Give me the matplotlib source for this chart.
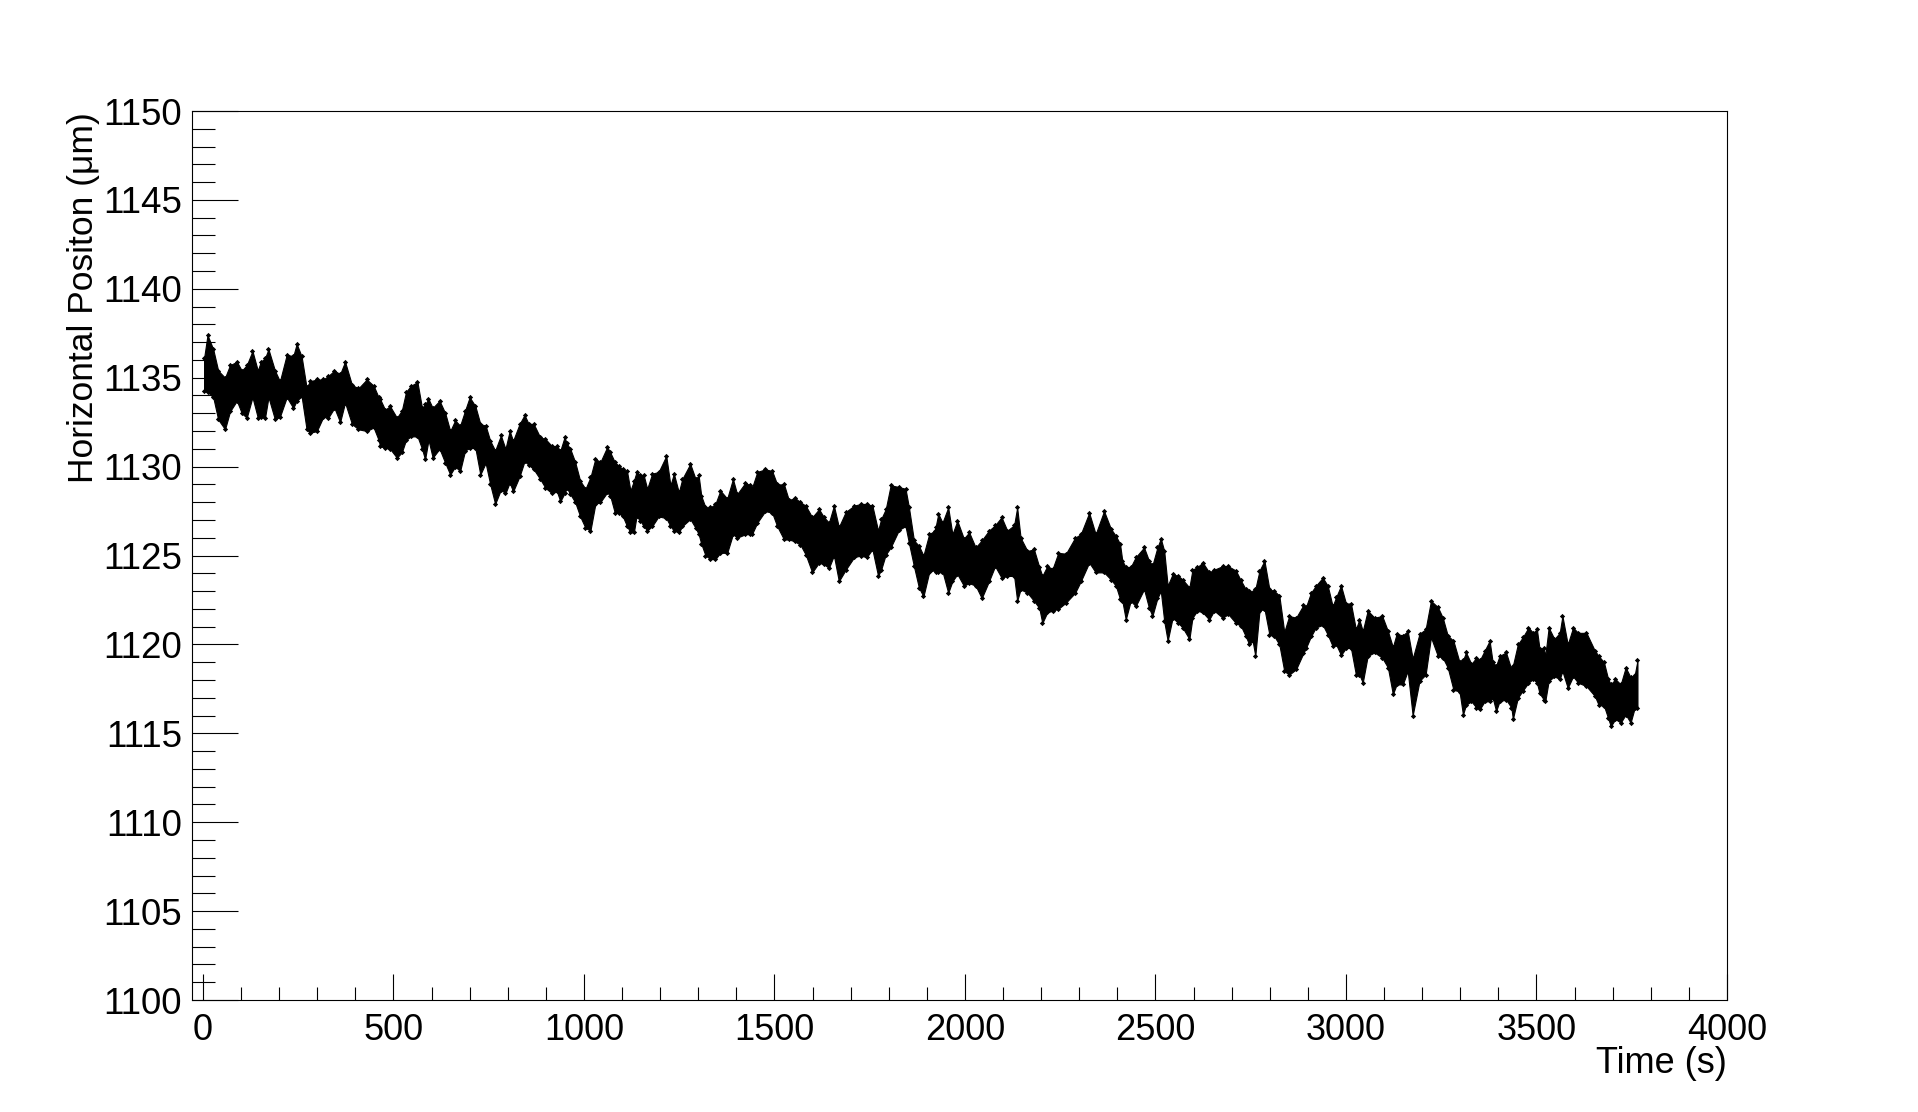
import matplotlib
matplotlib.use('Agg')
from matplotlib import pyplot as plt
from matplotlib.ticker import MultipleLocator

plt.rcParams['font.family'] = ['Liberation Sans', 'DejaVu Sans']

# time and the upper/lower edge of the point cloud
time_s = [3,12,27,40,58,71,89,102,115,130,144,152,163,172,189,202,220,237,246,259,272,281,299,316,329,345,360,373,391,408,430,448,461,
    465,478,491,509,522,533,546,563,575,583,592,603,621,636,649,662,675,688,700,715,728,742,754,767,782,794,805,814,831,844,855,868,885,899,916,929,938,949,
    955,964,977,990,1004,1017,1030,1043,1061,1069,1081,1091,1102,1113,1122,1131,1138,1148,1157,1166,1179,1196,1216,1227,1236,1249,1258,1279,1293,1301,1308,1319,1332,1345,1358,1376,1391,1402,1424,1435,
    1441,1455,1476,1494,1507,1525,1538,1553,1568,1582,1599,1617,1630,1643,1656,1669,1687,1709,1726,1742,1757,1772,1780,1792,1805,1827,1844,1853,1866,1879,1891,1906,1921,
    1923,1930,1941,1956,1967,1980,1997,2011,2028,2044,2063,2079,2096,2111,2129,2137,2146,2164,2181,2195,2203,2216,2230,2245,2265,2289,2304,2326,2343,2365,2383,2396,2407,
    2413,2422,2435,2448,2470,2483,2492,2505,2514,2523,2532,2545,2560,2571,2589,2597,2610,2624,2641,2654,2676,2691,2711,2724,2737,2746,2755,2762,2773,2786,2799,2812,2825,2838,2851,2869,2888,
    2895,2908,2921,2939,2952,2965,2974,2987,3000,3013,3026,3035,3044,3057,3075,3095,3110,3123,3133,3149,3162,3175,3193,3209,3223,3241,3254,3267,3282,3298,3307,3315,3329,3342,3351,3364,3377,
    3385,3394,3403,3420,3434,3438,3451,3464,3479,3491,3501,3508,3519,3523,3532,3547,3561,3568,3582,3596,3609,3631,3653,3663,3677,3688,3695,3707,3721,3734,3747,3758,3765]

upper = [1136.1,1137.4,1136.6,1135.4,1135.0,1135.7,1135.9,1135.4,1135.7,1136.5,1135.4,1135.9,1136.1,1136.6,1135.4,1134.8,1136.3,1136.2,1136.9,1136.2,1134.45,1134.8,1134.9,1134.9,1135.1,1135.4,1135.2,1135.9,1134.6,1134.4,1134.9,1134.55,1133.9,
    1133.8,1133.2,1133.4,1132.75,1133.15,1134.2,1134.55,1134.75,1133.3,1133.5,1133.8,1133.3,1133.7,1133.0,1132.0,1132.6,1132.3,1133.15,1133.9,1133.4,1132.4,1132.3,1131.45,1130.9,1131.75,1131.0,1132.0,1131.45,1132.4,1132.9,1132.4,1132.4,1131.65,1131.55,1131.15,1131.15,1130.9,1131.65,
    1131.3,1131.0,1130.25,1129.2,1128.75,1129.4,1130.45,1130.25,1131.1,1130.8,1130.25,1130.05,1129.85,1129.75,1128.65,1129.2,1129.7,1129.5,1129.5,1128.75,1129.6,1129.7,1130.6,1128.95,1129.6,1128.55,1129.3,1130.15,1129.3,1129.5,1128.35,1127.7,1127.7,1127.9,1128.65,1128.2,1129.3,1128.45,1129.1,1128.95,
    1128.8,1129.7,1129.85,1129.75,1129.0,1129.0,1128.1,1128.25,1128.0,1127.8,1127.15,1127.6,1127.15,1126.85,1127.8,1126.6,1127.45,1127.8,1127.9,1127.9,1127.8,1126.4,1127.05,1127.6,1128.95,1128.85,1128.75,1127.7,1125.85,1125.55,1125.0,1126.2,1126.4,
    1126.6,1127.35,1126.85,1127.7,1126.2,1126.95,1125.95,1126.3,1125.45,1125.85,1126.4,1126.7,1127.15,1126.4,1126.7,1127.7,1126.0,1125.25,1125.35,1124.35,1123.85,1124.4,1124.25,1125.15,1125.1,1126.0,1126.2,1127.4,1126.2,1127.5,1126.5,1126.1,1125.65,
    1124.7,1124.35,1124.35,1124.9,1125.45,1124.7,1124.45,1125.45,1125.95,1125.25,1123.3,1123.95,1123.85,1123.65,1123.2,1124.2,1124.35,1124.6,1124.05,1124.2,1124.4,1124.4,1124.15,1123.6,1123.1,1123.0,1122.95,1123.1,1124.15,1124.7,1123.1,1123.0,1122.75,1120.7,1121.6,1121.5,1122.2,
    1122.1,1122.9,1123.3,1123.75,1123.3,1122.15,1122.65,1123.3,1122.3,1122.3,1120.85,1121.4,1120.75,1121.9,1121.5,1121.6,1120.75,1119.85,1120.6,1120.5,1120.75,1119.2,1120.6,1120.85,1122.45,1122.1,1121.5,1120.5,1120.2,1119.0,1119.1,1119.55,1118.9,1119.25,1119.1,1119.65,1120.2,
    1119.0,1118.8,1119.35,1119.55,1118.6,1118.8,1120.0,1120.4,1120.95,1120.65,1120.85,1119.75,1119.8,1119.35,1120.95,1120.3,1120.65,1121.6,1120.0,1120.95,1120.65,1120.65,1119.65,1119.35,1119.0,1118.05,1117.75,1118.05,1117.75,1118.7,1118.15,1118.3,1119.1]

lower = [1134.25,1134.2,1133.9,1132.65,1132.1,1133.1,1133.7,1133.0,1132.75,1133.9,1132.75,1132.8,1132.75,1133.9,1132.65,1132.8,1133.9,1133.3,1133.7,1133.95,1132.1,1131.9,1132.0,1132.8,1132.75,1133.3,1132.5,1133.6,1132.4,1132.1,1132.0,1132.2,1131.5,
    1131.15,1131.05,1131.0,1130.5,1130.8,1131.5,1131.7,1131.7,1131.0,1130.4,1131.5,1130.5,1131.0,1130.2,1129.55,1130.0,1129.75,1130.9,1131.05,1131.05,1129.55,1130.2,1129.0,1127.9,1128.7,1128.5,1129.1,1128.6,1129.45,1130.3,1130.1,1129.85,1129.3,1128.8,1128.5,1128.6,1128.05,1128.5,
    1128.8,1128.45,1128.0,1127.2,1126.55,1126.4,1127.9,1128.0,1128.55,1128.35,1127.4,1127.4,1127.2,1126.65,1126.3,1126.3,1127.2,1126.95,1126.65,1126.4,1126.65,1127.2,1127.1,1126.65,1126.4,1126.3,1126.65,1127.05,1126.55,1126.2,1125.65,1125.0,1124.8,1124.8,1125.15,1125.15,1126.2,1126.0,1126.2,1126.2,
    1126.2,1126.85,1127.5,1127.4,1126.65,1125.9,1125.9,1125.8,1125.6,1125.05,1124.05,1124.6,1124.5,1124.3,1125.0,1123.55,1124.2,1124.9,1125.0,1124.9,1125.35,1123.85,1124.2,1125.05,1125.45,1126.45,1126.65,1125.7,1124.4,1123.2,1122.7,1124.05,1124.2,
    1124.05,1124.05,1124.1,1122.9,1123.55,1123.95,1123.3,1123.45,1123.3,1122.6,1123.55,1124.4,1123.75,1123.85,1123.85,1122.45,1123.1,1122.9,1122.45,1122.05,1121.2,1121.8,1121.9,1122.0,1122.35,1122.9,1123.55,1124.6,1124.05,1124.05,1123.65,1123.3,1122.55,
    1122.45,1121.4,1122.45,1122.15,1123.1,1122.05,1121.6,1122.6,1123.0,1121.3,1120.2,1121.5,1121.2,1120.95,1120.3,1121.5,1121.9,1121.8,1121.4,1121.9,1121.5,1121.7,1121.2,1121.05,1120.45,1120.0,1120.2,1119.35,1121.9,1122.0,1120.55,1120.45,1120.0,1118.5,1118.3,1118.6,1119.5,
    1119.8,1120.45,1120.95,1121.1,1120.55,1119.9,1120.0,1119.4,1119.8,1119.8,1118.3,1118.3,1117.85,1119.35,1119.55,1119.25,1118.7,1117.2,1117.75,1117.75,1118.5,1116.0,1117.95,1118.3,1120.4,1119.35,1119.25,1118.7,1117.45,1117.35,1116.05,1116.6,1116.8,1116.45,1116.35,1116.8,1116.8,
    1117.0,1116.25,1116.8,1116.9,1116.45,1115.8,1117.0,1117.4,1117.85,1118.05,1117.85,1117.25,1116.9,1116.8,1117.95,1118.2,1118.05,1118.5,1117.55,1118.2,1117.85,1117.65,1117.1,1116.6,1116.55,1115.85,1115.4,1115.8,1115.6,1116.05,1115.6,1116.45,1116.45]

fig = plt.figure(figsize=(19.18, 11.12), dpi=100)
ax = fig.add_axes([191.5/1918, 1-1000/1112, (1727-191.5)/1918, (1000-111)/1112])

ax.fill_between(time_s, lower, upper, color='black', linewidth=0.8, antialiased=False)
ax.plot(time_s, upper, 'D', color='black', ms=2.7, mew=0)
ax.plot(time_s, lower, 'D', color='black', ms=2.7, mew=0)

ax.set_xlim(-30, 4000)
ax.set_ylim(1100, 1150)
ax.xaxis.set_major_locator(MultipleLocator(500))
ax.xaxis.set_minor_locator(MultipleLocator(100))
ax.yaxis.set_major_locator(MultipleLocator(5))
ax.yaxis.set_minor_locator(MultipleLocator(1))
ax.tick_params(axis='x', which='major', direction='in', length=18.7, width=0.8, labelsize=26, pad=9)
ax.tick_params(axis='x', which='minor', direction='in', length=9.4, width=0.8)
ax.tick_params(axis='y', which='major', direction='in', length=33, width=0.8, labelsize=26.5, pad=7)
ax.tick_params(axis='y', which='minor', direction='in', length=16.6, width=0.8)
for s in ax.spines.values():
    s.set_linewidth(0.8)

fig.text(93/1918, 1-112/1112, 'Horizontal Positon (μm)', rotation=90, rotation_mode='anchor',
         ha='right', va='baseline', fontsize=25.5)
fig.text(1727/1918, 1-1073/1112, 'Time (s)', ha='right', va='baseline', fontsize=26)

fig.savefig('out.png', dpi=100, facecolor='white')
